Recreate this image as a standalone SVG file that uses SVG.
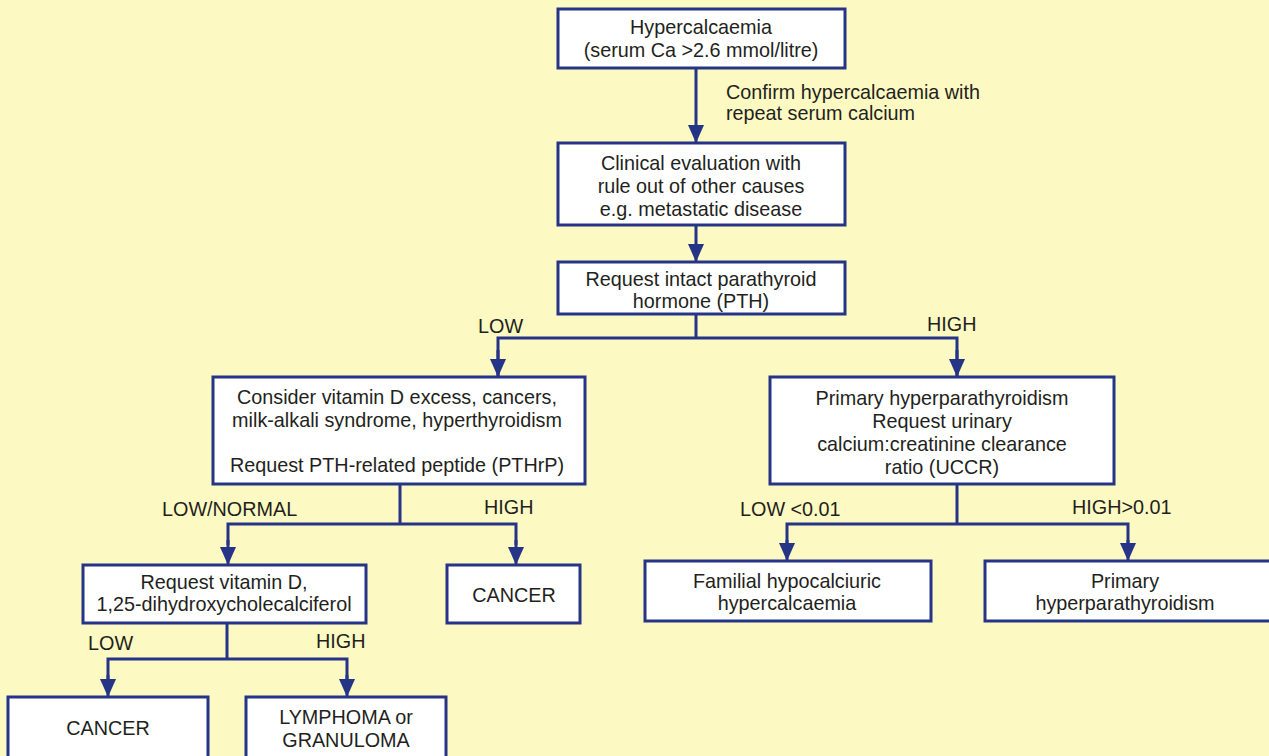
<svg xmlns="http://www.w3.org/2000/svg" width="1269" height="756" viewBox="0 0 1269 756">
<defs>
<style>
.bg{fill:#FDF9C2}
.box{fill:#fff;stroke:#263488;stroke-width:3}
.ln{fill:none;stroke:#263488;stroke-width:3}
text{font-family:"Liberation Sans",Arial,sans-serif;font-size:19.8px;fill:#231f20}
.c{text-anchor:middle}
</style>
<marker id="ah" viewBox="0 0 18 16" refX="18" refY="8" markerWidth="18" markerHeight="16" markerUnits="userSpaceOnUse" orient="auto">
<path d="M0,0 L18,8 L0,16 Z" fill="#263488"/>
</marker>
</defs>
<rect class="bg" x="0" y="0" width="1269" height="756"/>
<g id="connectors">
<line class="ln" x1="696" y1="68" x2="696" y2="143" marker-end="url(#ah)"/>
<line class="ln" x1="696" y1="225" x2="696" y2="262" marker-end="url(#ah)"/>
<line class="ln" x1="696" y1="314" x2="696" y2="338"/>
<polyline class="ln" points="498,376 498,338 957,338 957,376"/>
<line class="ln" x1="498" y1="350" x2="498" y2="377" marker-end="url(#ah)"/>
<line class="ln" x1="957" y1="350" x2="957" y2="377" marker-end="url(#ah)"/>
<line class="ln" x1="400" y1="484" x2="400" y2="524"/>
<polyline class="ln" points="228,545 228,524 516,524 516,545"/>
<line class="ln" x1="228" y1="540" x2="228" y2="565" marker-end="url(#ah)"/>
<line class="ln" x1="516" y1="540" x2="516" y2="565" marker-end="url(#ah)"/>
<line class="ln" x1="957" y1="484" x2="957" y2="524"/>
<polyline class="ln" points="787,545 787,524 1128,524 1128,545"/>
<line class="ln" x1="787" y1="540" x2="787" y2="561" marker-end="url(#ah)"/>
<line class="ln" x1="1128" y1="540" x2="1128" y2="561" marker-end="url(#ah)"/>
<line class="ln" x1="227" y1="623" x2="227" y2="659"/>
<polyline class="ln" points="108,680 108,659 347,659 347,680"/>
<line class="ln" x1="108" y1="675" x2="108" y2="697" marker-end="url(#ah)"/>
<line class="ln" x1="347" y1="675" x2="347" y2="697" marker-end="url(#ah)"/>
<text x="726" y="99">Confirm hypercalcaemia with</text>
<text x="726" y="120">repeat serum calcium</text>
<text x="478" y="333">LOW</text>
<text x="927" y="331">HIGH</text>
<text x="162" y="516">LOW/NORMAL</text>
<text x="484" y="514">HIGH</text>
<text x="740" y="516">LOW &lt;0.01</text>
<text x="1072" y="514">HIGH&gt;0.01</text>
<text x="88" y="650">LOW</text>
<text x="316" y="648">HIGH</text>
</g>
<g id="n1"><rect class="box" x="558" y="9" width="287" height="59"/>
<text class="c" x="701" y="34">Hypercalcaemia</text>
<text class="c" x="701" y="57">(serum Ca &gt;2.6 mmol/litre)</text></g>
<g id="n2"><rect class="box" x="558" y="143" width="287" height="82"/>
<text class="c" x="701" y="170">Clinical evaluation with</text>
<text class="c" x="701" y="193">rule out of other causes</text>
<text class="c" x="701" y="216">e.g. metastatic disease</text></g>
<g id="n3"><rect class="box" x="558" y="262" width="287" height="52"/>
<text class="c" x="701" y="286">Request intact parathyroid</text>
<text class="c" x="701" y="308">hormone (PTH)</text></g>
<g id="n4"><rect class="box" x="213" y="377" width="372" height="107"/>
<text class="c" x="397" y="404">Consider vitamin D excess, cancers,</text>
<text class="c" x="397" y="427">milk-alkali syndrome, hyperthyroidism</text>
<text class="c" x="397" y="472">Request PTH-related peptide (PTHrP)</text></g>
<g id="n5"><rect class="box" x="770" y="377" width="344" height="107"/>
<text class="c" x="942" y="405">Primary hyperparathyroidism</text>
<text class="c" x="942" y="428">Request urinary</text>
<text class="c" x="942" y="451">calcium:creatinine clearance</text>
<text class="c" x="942" y="474">ratio (UCCR)</text></g>
<g id="n6"><rect class="box" x="83" y="565" width="283" height="58"/>
<text class="c" x="224" y="589">Request vitamin D,</text>
<text class="c" x="224" y="611">1,25-dihydroxycholecalciferol</text></g>
<g id="n7"><rect class="box" x="447" y="565" width="133" height="58"/>
<text class="c" x="514" y="602">CANCER</text></g>
<g id="n8"><rect class="box" x="645" y="561" width="286" height="60"/>
<text class="c" x="787" y="588">Familial hypocalciuric</text>
<text class="c" x="787" y="610">hypercalcaemia</text></g>
<g id="n9"><rect class="box" x="985" y="561" width="290" height="60"/>
<text class="c" x="1125" y="588">Primary</text>
<text class="c" x="1125" y="610">hyperparathyroidism</text></g>
<g id="n10"><rect class="box" x="8" y="697" width="200" height="64"/>
<text class="c" x="108" y="735">CANCER</text></g>
<g id="n11"><rect class="box" x="246" y="697" width="200" height="64"/>
<text class="c" x="346" y="724">LYMPHOMA or</text>
<text class="c" x="346" y="747">GRANULOMA</text></g>
</svg>
